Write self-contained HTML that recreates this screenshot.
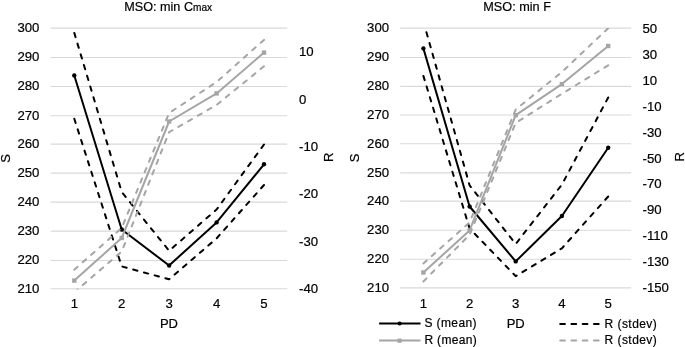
<!DOCTYPE html>
<html><head><meta charset="utf-8"><style>
html,body{margin:0;padding:0;background:#fff;}
svg{display:block;will-change:transform;}
text{font-family:"Liberation Sans", sans-serif;fill:#000;stroke:#000;stroke-width:0.2px;}
.t13{font-size:13.2px;}
.t13b{font-size:13px;}
.tt{font-size:12.5px;}
.sub{font-size:10px;}
.tl{font-size:12px;}
</style></head><body>
<svg width="685" height="347" viewBox="0 0 685 347">
<rect width="685" height="347" fill="#fff"/>
<line x1="50.60" x2="287.30" y1="28.10" y2="28.10" stroke="#d9d9d9" stroke-width="1.1"/>
<line x1="50.60" x2="287.30" y1="57.51" y2="57.51" stroke="#d9d9d9" stroke-width="1.1"/>
<line x1="50.60" x2="287.30" y1="86.43" y2="86.43" stroke="#d9d9d9" stroke-width="1.1"/>
<line x1="50.60" x2="287.30" y1="115.80" y2="115.80" stroke="#d9d9d9" stroke-width="1.1"/>
<line x1="50.60" x2="287.30" y1="144.17" y2="144.17" stroke="#d9d9d9" stroke-width="1.1"/>
<line x1="50.60" x2="287.30" y1="173.08" y2="173.08" stroke="#d9d9d9" stroke-width="1.1"/>
<line x1="50.60" x2="287.30" y1="202.10" y2="202.10" stroke="#d9d9d9" stroke-width="1.1"/>
<line x1="50.60" x2="287.30" y1="231.17" y2="231.17" stroke="#d9d9d9" stroke-width="1.1"/>
<line x1="50.60" x2="287.30" y1="260.50" y2="260.50" stroke="#d9d9d9" stroke-width="1.1"/>
<line x1="50.60" x2="287.30" y1="288.75" y2="288.75" stroke="#d9d9d9" stroke-width="1.1"/>
<text x="39.40" y="32.00" text-anchor="end" class="t13">300</text>
<text x="39.40" y="61.41" text-anchor="end" class="t13">290</text>
<text x="39.40" y="90.33" text-anchor="end" class="t13">280</text>
<text x="39.40" y="119.70" text-anchor="end" class="t13">270</text>
<text x="39.40" y="148.07" text-anchor="end" class="t13">260</text>
<text x="39.40" y="176.98" text-anchor="end" class="t13">250</text>
<text x="39.40" y="206.00" text-anchor="end" class="t13">240</text>
<text x="39.40" y="235.07" text-anchor="end" class="t13">230</text>
<text x="39.40" y="264.40" text-anchor="end" class="t13">220</text>
<text x="39.40" y="292.65" text-anchor="end" class="t13">210</text>
<text x="299.00" y="56.20" class="t13">10</text>
<text x="299.00" y="103.59" class="t13">0</text>
<text x="299.00" y="150.98" class="t13">-10</text>
<text x="299.00" y="198.37" class="t13">-20</text>
<text x="299.00" y="245.76" class="t13">-30</text>
<text x="299.00" y="293.15" class="t13">-40</text>
<text x="74.30" y="308.0" text-anchor="middle" class="t13">1</text>
<text x="121.70" y="308.0" text-anchor="middle" class="t13">2</text>
<text x="169.10" y="308.0" text-anchor="middle" class="t13">3</text>
<text x="216.60" y="308.0" text-anchor="middle" class="t13">4</text>
<text x="264.00" y="308.0" text-anchor="middle" class="t13">5</text>
<text x="168.95" y="327.7" text-anchor="middle" class="t13b">PD</text>
<text transform="translate(10.00,158.40) rotate(-90)" text-anchor="middle" class="t13b">S</text>
<text transform="translate(332.80,157.20) rotate(-90)" text-anchor="middle" class="t13b">R</text>
<text x="124.30" y="10.9" textLength="87.80" lengthAdjust="spacingAndGlyphs" class="tt">MSO: min C<tspan class="sub">max</tspan></text>
<clipPath id="c1"><rect x="40.6" y="28.1" width="256.70000000000005" height="261.34999999999997"/></clipPath>
<g clip-path="url(#c1)" fill="none" stroke-linejoin="round">
<polyline points="74.30,32.90 121.70,192.00 169.10,250.80 216.60,209.50 264.00,144.50" stroke="#000" stroke-width="2.0" stroke-dasharray="4.400 6.792" stroke-linecap="round" stroke-dashoffset="0"/>
<polyline points="74.30,118.80 121.70,266.40 169.10,279.30 216.60,238.40 264.00,185.00" stroke="#000" stroke-width="2.0" stroke-dasharray="4.400 6.728" stroke-linecap="round" stroke-dashoffset="0"/>
<polyline points="74.30,75.50 121.70,229.50 169.10,265.50 216.60,222.40 264.00,164.30" stroke="#000" stroke-width="2.0"/>
<circle cx="74.30" cy="75.50" r="2.2" fill="#000" stroke="none"/>
<circle cx="121.70" cy="229.50" r="2.2" fill="#000" stroke="none"/>
<circle cx="169.10" cy="265.50" r="2.2" fill="#000" stroke="none"/>
<circle cx="216.60" cy="222.40" r="2.2" fill="#000" stroke="none"/>
<circle cx="264.00" cy="164.30" r="2.2" fill="#000" stroke="none"/>
<polyline points="74.30,269.70 121.70,228.00 169.10,113.00 216.60,82.00 264.00,39.90" stroke="#a5a5a5" stroke-width="2.0" stroke-dasharray="4.400 6.831" stroke-linecap="round" stroke-dashoffset="0"/>
<polyline points="74.30,292.30 121.70,251.50 169.10,132.20 216.60,104.90 264.00,66.30" stroke="#a5a5a5" stroke-width="2.0" stroke-dasharray="4.400 6.801" stroke-linecap="round" stroke-dashoffset="0"/>
<polyline points="74.30,280.60 121.70,238.00 169.10,121.50 216.60,93.40 264.00,52.60" stroke="#a5a5a5" stroke-width="2.0"/>
<rect x="72.10" y="278.40" width="4.4" height="4.4" fill="#a5a5a5" stroke="none"/>
<rect x="119.50" y="235.80" width="4.4" height="4.4" fill="#a5a5a5" stroke="none"/>
<rect x="166.90" y="119.30" width="4.4" height="4.4" fill="#a5a5a5" stroke="none"/>
<rect x="214.40" y="91.20" width="4.4" height="4.4" fill="#a5a5a5" stroke="none"/>
<rect x="261.80" y="50.40" width="4.4" height="4.4" fill="#a5a5a5" stroke="none"/>
</g>
<line x1="400.20" x2="631.20" y1="28.10" y2="28.10" stroke="#d9d9d9" stroke-width="1.1"/>
<line x1="400.20" x2="631.20" y1="57.47" y2="57.47" stroke="#d9d9d9" stroke-width="1.1"/>
<line x1="400.20" x2="631.20" y1="86.33" y2="86.33" stroke="#d9d9d9" stroke-width="1.1"/>
<line x1="400.20" x2="631.20" y1="115.00" y2="115.00" stroke="#d9d9d9" stroke-width="1.1"/>
<line x1="400.20" x2="631.20" y1="143.81" y2="143.81" stroke="#d9d9d9" stroke-width="1.1"/>
<line x1="400.20" x2="631.20" y1="172.83" y2="172.83" stroke="#d9d9d9" stroke-width="1.1"/>
<line x1="400.20" x2="631.20" y1="201.13" y2="201.13" stroke="#d9d9d9" stroke-width="1.1"/>
<line x1="400.20" x2="631.20" y1="230.30" y2="230.30" stroke="#d9d9d9" stroke-width="1.1"/>
<line x1="400.20" x2="631.20" y1="259.30" y2="259.30" stroke="#d9d9d9" stroke-width="1.1"/>
<line x1="400.20" x2="631.20" y1="287.86" y2="287.86" stroke="#d9d9d9" stroke-width="1.1"/>
<text x="389.10" y="32.00" text-anchor="end" class="t13">300</text>
<text x="389.10" y="61.37" text-anchor="end" class="t13">290</text>
<text x="389.10" y="90.23" text-anchor="end" class="t13">280</text>
<text x="389.10" y="118.90" text-anchor="end" class="t13">270</text>
<text x="389.10" y="147.71" text-anchor="end" class="t13">260</text>
<text x="389.10" y="176.73" text-anchor="end" class="t13">250</text>
<text x="389.10" y="205.03" text-anchor="end" class="t13">240</text>
<text x="389.10" y="234.20" text-anchor="end" class="t13">230</text>
<text x="389.10" y="263.20" text-anchor="end" class="t13">220</text>
<text x="389.10" y="291.76" text-anchor="end" class="t13">210</text>
<text x="642.50" y="33.00" class="t13">50</text>
<text x="642.50" y="58.90" class="t13">30</text>
<text x="642.50" y="84.80" class="t13">10</text>
<text x="642.50" y="110.70" class="t13">-10</text>
<text x="642.50" y="136.60" class="t13">-30</text>
<text x="642.50" y="162.50" class="t13">-50</text>
<text x="642.50" y="188.40" class="t13">-70</text>
<text x="642.50" y="214.30" class="t13">-90</text>
<text x="642.50" y="240.20" class="t13">-110</text>
<text x="642.50" y="266.10" class="t13">-130</text>
<text x="642.50" y="292.00" class="t13">-150</text>
<text x="423.40" y="308.0" text-anchor="middle" class="t13">1</text>
<text x="469.60" y="308.0" text-anchor="middle" class="t13">2</text>
<text x="515.70" y="308.0" text-anchor="middle" class="t13">3</text>
<text x="561.90" y="308.0" text-anchor="middle" class="t13">4</text>
<text x="608.20" y="308.0" text-anchor="middle" class="t13">5</text>
<text x="515.70" y="327.7" text-anchor="middle" class="t13b">PD</text>
<text transform="translate(359.00,157.90) rotate(-90)" text-anchor="middle" class="t13b">S</text>
<text transform="translate(684.20,156.80) rotate(-90)" text-anchor="middle" class="t13b">R</text>
<text x="483.30" y="10.9" textLength="67.60" lengthAdjust="spacingAndGlyphs" class="tt">MSO: min F</text>
<clipPath id="c2"><rect x="390.2" y="28.1" width="251.00000000000006" height="260.46"/></clipPath>
<g clip-path="url(#c2)" fill="none" stroke-linejoin="round">
<polyline points="423.40,21.50 469.60,185.30 515.70,244.00 561.90,184.60 608.20,97.50" stroke="#000" stroke-width="2.0" stroke-dasharray="4.400 6.798" stroke-linecap="round" stroke-dashoffset="0"/>
<polyline points="423.40,75.90 469.60,228.50 515.70,276.10 561.90,248.30 608.20,196.50" stroke="#000" stroke-width="2.0" stroke-dasharray="4.400 6.719" stroke-linecap="round" stroke-dashoffset="0"/>
<polyline points="423.40,48.40 469.60,206.50 515.70,261.40 561.90,216.00 608.20,147.70" stroke="#000" stroke-width="2.0"/>
<circle cx="423.40" cy="48.40" r="2.2" fill="#000" stroke="none"/>
<circle cx="469.60" cy="206.50" r="2.2" fill="#000" stroke="none"/>
<circle cx="515.70" cy="261.40" r="2.2" fill="#000" stroke="none"/>
<circle cx="561.90" cy="216.00" r="2.2" fill="#000" stroke="none"/>
<circle cx="608.20" cy="147.70" r="2.2" fill="#000" stroke="none"/>
<polyline points="423.40,263.40 469.60,222.50 515.70,109.50 561.90,72.00 608.20,28.20" stroke="#a5a5a5" stroke-width="2.0" stroke-dasharray="4.400 6.807" stroke-linecap="round" stroke-dashoffset="0"/>
<polyline points="423.40,281.50 469.60,234.80 515.70,122.90 561.90,93.80 608.20,65.30" stroke="#a5a5a5" stroke-width="2.0" stroke-dasharray="4.400 6.803" stroke-linecap="round" stroke-dashoffset="0"/>
<polyline points="423.40,272.50 469.60,230.40 515.70,115.20 561.90,84.10 608.20,46.00" stroke="#a5a5a5" stroke-width="2.0"/>
<rect x="421.20" y="270.30" width="4.4" height="4.4" fill="#a5a5a5" stroke="none"/>
<rect x="467.40" y="228.20" width="4.4" height="4.4" fill="#a5a5a5" stroke="none"/>
<rect x="513.50" y="113.00" width="4.4" height="4.4" fill="#a5a5a5" stroke="none"/>
<rect x="559.70" y="81.90" width="4.4" height="4.4" fill="#a5a5a5" stroke="none"/>
<rect x="606.00" y="43.80" width="4.4" height="4.4" fill="#a5a5a5" stroke="none"/>
</g>

<line x1="379.1" x2="420.5" y1="323.4" y2="323.4" stroke="#000" stroke-width="2.0"/>
<circle cx="399.6" cy="323.5" r="2.1" fill="#000"/>
<text x="424.4" y="327.4" class="tl" textLength="52.2" lengthAdjust="spacing">S (mean)</text>
<line x1="379.1" x2="420.5" y1="340.5" y2="340.5" stroke="#a5a5a5" stroke-width="2.0"/>
<rect x="397.5" y="338.6" width="4.2" height="4.2" fill="#a5a5a5"/>
<text x="424.4" y="344.4" class="tl" textLength="52.4" lengthAdjust="spacing">R (mean)</text>
<line x1="560.2" x2="598.7" y1="323.9" y2="323.9" stroke="#000" stroke-width="2.0" stroke-dasharray="4.75 6.5" stroke-linecap="round"/>
<text x="604.6" y="327.6" class="tl" textLength="52.2" lengthAdjust="spacing">R (stdev)</text>
<line x1="560.2" x2="598.7" y1="340.4" y2="340.4" stroke="#a5a5a5" stroke-width="2.0" stroke-dasharray="4.75 6.5" stroke-linecap="round"/>
<text x="604.6" y="344.4" class="tl" textLength="52.2" lengthAdjust="spacing">R (stdev)</text>

</svg>
</body></html>
